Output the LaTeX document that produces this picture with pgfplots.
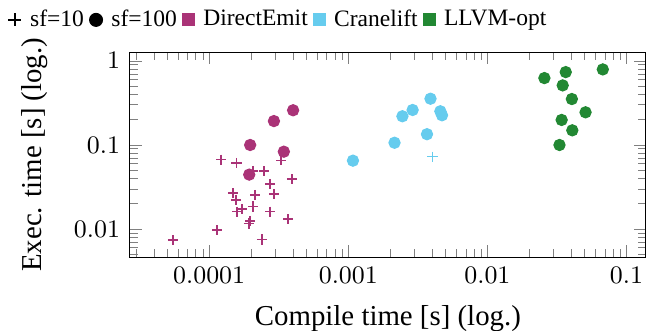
\documentclass[border=0pt]{standalone}
\usepackage{pgfplots}
\pgfplotsset{compat=1.18}
\usepackage{fontspec}
\setmainfont{Liberation Serif}
\definecolor{DE}{HTML}{AA3377}
\definecolor{CL}{HTML}{66CCEE}
\definecolor{LL}{HTML}{228833}
\begin{document}
\begin{tikzpicture}
\begin{axis}[
  name=ax,
  scale only axis,
  width=184.3pt, height=73.2pt,
  xmode=log, ymode=log,
  xmin=2.69e-5, xmax=0.138,
  ymin=0.0046, ymax=1.26,
  xtick={1e-4,1e-3,1e-2,1e-1},
  xticklabels={$0.0001$,$0.001$,$0.01$,$0.1$},
  ytick={0.01,0.1,1},
  yticklabels={$0.01$,$0.1$,$1$},
  minor xtick={3e-5,4e-5,5e-5,6e-5,7e-5,8e-5,9e-5,2e-4,3e-4,4e-4,5e-4,6e-4,7e-4,8e-4,9e-4,2e-3,3e-3,4e-3,5e-3,6e-3,7e-3,8e-3,9e-3,2e-2,3e-2,4e-2,5e-2,6e-2,7e-2,8e-2,9e-2},
  minor ytick={0.005,0.006,0.007,0.008,0.009,0.02,0.03,0.04,0.05,0.06,0.07,0.08,0.09,0.2,0.3,0.4,0.5,0.6,0.7,0.8,0.9},
  tick label style={font=\fontsize{8.7}{10}\selectfont},
  xlabel={Compile time [s] (log.)},
  ylabel={Exec. time [s] (log.)},
  label style={font=\fontsize{10.3}{12}\selectfont},
  xlabel style={at={([yshift=-21.8pt]axis description cs:0.5,0)}, anchor=center},
  ylabel style={at={([xshift=-33.9pt]axis description cs:0,0.5)}, anchor=center},
  legend columns=-1,
  legend image code/.code={\draw[#1] plot coordinates {(0.1cm,0cm)};},
  legend style={draw=none, fill=none, at={(0,1)}, anchor=west, xshift=-43.6pt, yshift=11.6pt,
    inner sep=0pt, font=\fontsize{8.4}{10}\selectfont,
    /tikz/every odd column/.append style={column sep=1.2pt}},
]
\addlegendimage{mark=+, black, mark size=2.3pt, line width=0.5pt}
\addlegendentry{sf=10}
\addlegendimage{mark=*, black, mark size=2.3pt}
\addlegendentry{sf=100}
\addlegendimage{mark=square*, DE, mark size=2.1pt}
\addlegendentry{DirectEmit}
\addlegendimage{mark=square*, CL, mark size=2.1pt}
\addlegendentry{Cranelift}
\addlegendimage{mark=square*, LL, mark size=2.1pt}
\addlegendentry{LLVM-opt}

% DirectEmit sf=10
\addplot[only marks, mark=+, color=DE, mark options={draw=DE}, mark size=1.8pt, line width=0.55pt, forget plot] coordinates {
(5.49e-5,0.00736) (1.14e-4,0.0097) (1.22e-4,0.0667) (1.57e-4,0.061) (3.29e-4,0.0656)
(2.07e-4,0.049) (2.47e-4,0.0486) (3.94e-4,0.039) (2.74e-4,0.0343) (1.48e-4,0.0266)
(2.14e-4,0.0254) (2.93e-4,0.0259) (1.56e-4,0.0222) (2.07e-4,0.0185) (1.72e-4,0.0173)
(1.59e-4,0.0161) (2.74e-4,0.0161) (3.70e-4,0.0131) (1.97e-4,0.0125) (1.93e-4,0.0116)
(2.39e-4,0.0075)
};
% Cranelift sf=10
\addplot[only marks, mark=+, color=CL, mark options={draw=CL}, mark size=1.8pt, line width=0.55pt, forget plot] coordinates {
(4.03e-3,0.0724)
};
% DirectEmit sf=100
\addplot[only marks, mark=*, DE, mark size=2pt, forget plot] coordinates {
(4.01e-4,0.258) (2.92e-4,0.192) (1.97e-4,0.0997) (3.44e-4,0.083) (1.94e-4,0.0443)
};
% Cranelift sf=100
\addplot[only marks, mark=*, CL, mark size=2pt, forget plot] coordinates {
(1.08e-3,0.0649) (2.15e-3,0.106) (2.45e-3,0.219) (2.90e-3,0.260) (3.90e-3,0.354)
(3.68e-3,0.134) (4.59e-3,0.251) (4.72e-3,0.225)
};
% LLVM-opt sf=100
\addplot[only marks, mark=*, LL, mark size=2pt, forget plot] coordinates {
(0.0257,0.623) (0.0366,0.734) (0.0676,0.790) (0.0348,0.510) (0.0405,0.351)
(0.0508,0.244) (0.0342,0.198) (0.0408,0.149) (0.0330,0.0997)
};
\end{axis}
\pgfresetboundingbox
\path ([xshift=-46.4pt,yshift=-26pt]ax.south west) rectangle ([xshift=6.1pt,yshift=18.7pt]ax.north east);
\end{tikzpicture}
\end{document}
